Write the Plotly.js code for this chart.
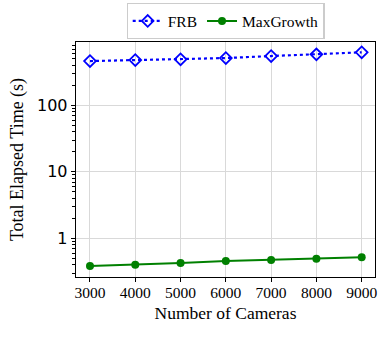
<!DOCTYPE html>
<html>
<head>
<meta charset="utf-8">
<script src="https://cdn.plot.ly/plotly-3.0.1.min.js"></script>
<style>
  html, body { margin: 0; padding: 0; background: #fff; }
  #graph { width: 391px; height: 337px; }
</style>
</head>
<body>
<div id="graph"></div>
<script>
// camera counts on the x axis
const cameras = [3000, 4000, 5000, 6000, 7000, 8000, 9000];
// elapsed time in seconds
const frbTime = [463, 480, 492, 514, 551, 584, 627];
const maxGrowthTime = [0.383, 0.401, 0.425, 0.456, 0.472, 0.493, 0.518];

const serif = 'Liberation Serif, Times New Roman, serif';

// minor log ticks (2..9 in each decade)
const minorTicks = [];
[0.1, 1, 10, 100].forEach(d => {
  for (let k = 2; k <= 9; k++) minorTicks.push(k * d);
});

const traces = [
  {
    x: cameras,
    y: frbTime,
    name: 'FRB',
    type: 'scatter',
    mode: 'lines+markers',
    line: { color: 'blue', width: 2.2, dash: 'dot' },
    marker: { symbol: 'diamond-open', size: 9, color: 'blue', line: { width: 1.8, color: 'blue' } }
  },
  {
    x: cameras,
    y: maxGrowthTime,
    name: 'MaxGrowth',
    type: 'scatter',
    mode: 'lines+markers',
    line: { color: 'green', width: 2 },
    marker: { symbol: 'circle', size: 8, color: 'green' }
  }
];

const layout = {
  width: 391,
  height: 337,
  margin: { l: 76, r: 16, t: 42, b: 60, autoexpand: false },
  paper_bgcolor: '#fff',
  plot_bgcolor: '#fff',
  font: { family: serif, size: 15, color: '#000' },
  showlegend: true,
  legend: {
    orientation: 'h',
    x: 0.5, xanchor: 'center',
    y: 1.012, yanchor: 'bottom',
    bordercolor: '#cccccc', borderwidth: 1.2,
    font: { family: serif, size: 15.5 },
    itemwidth: 30,
    tracegroupgap: 0
  },
  xaxis: {
    range: [2691, 9294],
    tickvals: cameras,
    ticks: 'outside', ticklen: 4, tickcolor: '#000',
    ticklabelstandoff: -3,
    tickfont: { family: serif, size: 15.5 },
    showgrid: true, gridcolor: '#d9d9d9', gridwidth: 1,
    showline: true, linecolor: '#000', linewidth: 1.3, mirror: true,
    zeroline: false,
    title: { text: 'Number of Cameras', font: { family: serif, size: 17.5 }, standoff: 6 }
  },
  yaxis: {
    type: 'log',
    range: [Math.log10(0.262), Math.log10(896)],
    tickvals: [1, 10, 100],
    ticktext: ['1', '10', '100'],
    ticks: 'outside', ticklen: 4, tickcolor: '#000',
    tickfont: { family: 'DejaVu Sans, sans-serif', size: 16 },
    minor: { tickmode: 'array', tickvals: minorTicks, ticks: 'outside', ticklen: 2.5, tickcolor: '#000', tickwidth: 1, showgrid: false },
    showgrid: true, gridcolor: '#d9d9d9', gridwidth: 1,
    showline: true, linecolor: '#000', linewidth: 1.3, mirror: true,
    zeroline: false,
    title: { text: 'Total Elapsed Time (s)', font: { family: serif, size: 18 }, standoff: 8 }
  }
};

Plotly.newPlot('graph', traces, layout, { displayModeBar: false, staticPlot: true });
</script>
</body>
</html>
